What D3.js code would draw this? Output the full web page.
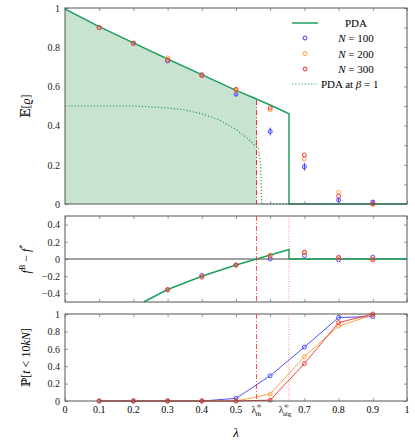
<!DOCTYPE html>
<html><head><meta charset="utf-8">
<script src="https://cdn.jsdelivr.net/npm/d3@7"></script>
<style>body{margin:0;background:#fff}text{font-family:"Liberation Serif","DejaVu Serif",serif}</style>
</head><body>
<svg id="c" width="415" height="443"></svg>
<script>
// data
var lamTh = 0.56, lamAlg = 0.655;
var lams = [0.1, 0.2, 0.3, 0.4, 0.5, 0.6, 0.7, 0.8, 0.9];
var pdaX = [0, 0.005, 0.1, 0.2, 0.3, 0.4, 0.5, 0.6, 0.655, 0.655, 1];
var pdaY = [1, 0.99, 0.905, 0.822, 0.74, 0.66, 0.58, 0.505, 0.46, 0, 0];
var betaX = [0, 0.2, 0.3, 0.35, 0.4, 0.45, 0.5, 0.53, 0.555, 0.565, 0.572, 0.575, 0.6, 1];
var betaY = [0.5, 0.5, 0.49, 0.48, 0.46, 0.43, 0.38, 0.34, 0.3, 0.29, 0.2, 0, 0, 0];
var rho100 = [0.9, 0.82, 0.73, 0.66, 0.56, 0.37, 0.19, 0.02, 0.01];
var rho200 = [0.9, 0.82, 0.745, 0.66, 0.58, 0.48, 0.23, 0.06, 0];
var rho300 = [0.9, 0.82, 0.735, 0.655, 0.585, 0.49, 0.25, 0.04, 0];
var rhoErr100 = [0, 0, 0, 0, 0.01, 0.02, 0.02, 0.01, 0.01];
var gapX = [0.23, 0.3, 0.4, 0.5, 0.56, 0.655, 0.655, 1];
var gapY = [-0.5, -0.355, -0.2, -0.07, 0, 0.11, 0, 0];
var gap100 = [null, null, -0.36, -0.19, -0.07, 0, 0.04, -0.01, 0.02];
var gap200 = [null, null, -0.36, -0.2, -0.07, 0.04, 0.07, 0.01, 0];
var gap300 = [null, null, -0.355, -0.21, -0.07, 0.04, 0.08, 0.02, -0.01];
var p100 = [0, 0, 0, 0, 0.03, 0.29, 0.62, 0.96, 0.97];
var p200 = [0, 0, 0, 0, 0, 0.08, 0.51, 0.86, 0.99];
var p300 = [0, 0, 0, 0, 0, 0.01, 0.43, 0.90, 1.0];
var xTicks = [0, 0.1, 0.2, 0.3, 0.4, 0.5, 0.7, 0.8, 0.9, 1];

var cBlue = "#3a3aff", cOrange = "#ff9a30", cRed = "#ee2a2a", cGreen = "#1e9e5e";
var svg = d3.select("#c");
var x = d3.scaleLinear().domain([0, 1]).range([65, 407]);
var y1 = d3.scaleLinear().domain([0, 1]).range([204, 8]);
var y2 = d3.scaleLinear().domain([-0.5, 0.5]).range([302, 216]);
var y3 = d3.scaleLinear().domain([0, 1]).range([401, 314]);

function frame(y, yt, fmt, label, top, bot) {
    var g = svg.append("g");
    g.append("g").attr("transform", "translate(65,0)")
        .call(d3.axisLeft(y).tickValues(yt).tickSize(-3).tickPadding(5).tickFormat(fmt))
        .call(function (a) { a.select(".domain").remove(); });
    g.append("g").attr("transform", "translate(407,0)")
        .call(d3.axisRight(y).tickValues(yt).tickSize(-3).tickFormat(""))
        .call(function (a) { a.select(".domain").remove(); });
    var xt = d3.range(0, 1.01, 0.1);
    g.append("g").attr("transform", "translate(0," + bot + ")")
        .call(d3.axisBottom(x).tickValues(xt).tickSize(-3).tickFormat(""))
        .call(function (a) { a.select(".domain").remove(); });
    g.append("g").attr("transform", "translate(0," + top + ")")
        .call(d3.axisTop(x).tickValues(xt).tickSize(-3).tickFormat(""))
        .call(function (a) { a.select(".domain").remove(); });
    g.selectAll(".tick line").attr("stroke", "#999");
    g.selectAll(".tick text").attr("font-size", 10).attr("fill", "#222");
    g.append("text").attr("transform", "translate(30," + ((top + bot) / 2) + ") rotate(-90)")
        .attr("text-anchor", "middle").attr("font-size", 12).html(label);
    return g;
}
function box(top, bot) {
    svg.append("rect").attr("x", 65).attr("y", top).attr("width", 342).attr("height", bot - top)
        .attr("fill", "none").attr("stroke", "#555").attr("stroke-width", 1);
}
var lineXY = function (xs, ys, y) {
    return d3.line().x(function (d, i) { return x(xs[i]); }).y(function (d) { return y(d); })(ys);
};
function markers(g, vals, y, col, err) {
    vals.forEach(function (v, i) {
        if (v === null) return;
        if (err && err[i]) g.append("line").attr("x1", x(lams[i])).attr("x2", x(lams[i]))
            .attr("y1", y(v - err[i])).attr("y2", y(v + err[i])).attr("stroke", col);
        g.append("circle").attr("cx", x(lams[i])).attr("cy", y(v)).attr("r", 2)
            .attr("fill", "none").attr("stroke", col).attr("stroke-width", 0.9);
    });
}

// panel 1
frame(y1, d3.range(0, 1.01, 0.1), function (d) { return Math.round(d * 10) % 2 ? "" : d3.format("~g")(d); },
    "𝔼[<tspan font-style='italic'>ϱ</tspan>]", 8, 204);
var fillX = pdaX.filter(function (d) { return d < lamTh; }).concat([lamTh, lamTh]);
var fillY = pdaY.slice(0, fillX.length - 2).concat([1 - 0.83 * lamTh + 0.01, 0]);
svg.append("path").attr("d", lineXY(fillX, fillY, y1) + "L" + x(0) + "," + y1(0) + "Z")
    .attr("fill", "#c9e3d1");
svg.append("line").attr("x1", x(lamTh)).attr("x2", x(lamTh)).attr("y1", y1(0.53)).attr("y2", y1(0))
    .attr("stroke", cRed).attr("stroke-dasharray", "5,2,1,2");
svg.append("path").attr("d", lineXY(betaX, betaY, y1)).attr("fill", "none")
    .attr("stroke", cGreen).attr("stroke-dasharray", "1.2,2").attr("stroke-width", 1.2);
svg.append("path").attr("d", lineXY(pdaX, pdaY, y1)).attr("fill", "none").attr("stroke", cGreen).attr("stroke-width", 1.5);
var m1 = svg.append("g");
markers(m1, rho100, y1, cBlue, rhoErr100);
markers(m1, rho200, y1, cOrange);
markers(m1, rho300, y1, cRed);
box(8, 204);

// legend
var leg = svg.append("g").attr("font-size", 11);
leg.append("line").attr("x1", 292).attr("x2", 318).attr("y1", 23).attr("y2", 23).attr("stroke", cGreen).attr("stroke-width", 1.5);
leg.append("text").attr("x", 356).attr("y", 27).attr("text-anchor", "middle").text("PDA");
[["100", cBlue], ["200", cOrange], ["300", cRed]].forEach(function (d, i) {
    var yy = 38 + i * 15.5;
    leg.append("circle").attr("cx", 305).attr("cy", yy).attr("r", 2).attr("fill", "none").attr("stroke", d[1]);
    leg.append("text").attr("x", 356).attr("y", yy + 4).attr("text-anchor", "middle")
        .html("<tspan font-style='italic'>N</tspan> = " + d[0]);
});
leg.append("line").attr("x1", 292).attr("x2", 318).attr("y1", 84).attr("y2", 84).attr("stroke", cGreen).attr("stroke-dasharray", "1.2,2").attr("stroke-width", 1.2);
leg.append("text").attr("x", 321).attr("y", 88).html("PDA at <tspan font-style='italic'>β</tspan> = 1");

// panel 2
frame(y2, [-0.4, -0.2, 0, 0.2, 0.4], function (d) { return d === 0 ? "0" : d3.format(".1f")(d).replace("-", "−"); },
    "<tspan font-style='italic'>f</tspan><tspan font-size='8' dy='-5'>B</tspan><tspan dy='5'> − </tspan><tspan font-style='italic'>f</tspan><tspan font-size='8' dy='-5'>*</tspan>", 216, 302);
svg.append("line").attr("x1", x(0)).attr("x2", x(1)).attr("y1", y2(0)).attr("y2", y2(0)).attr("stroke", "#444");
svg.append("path").attr("d", lineXY(gapX, gapY, y2)).attr("fill", "none").attr("stroke", cGreen).attr("stroke-width", 1.5);
var m2 = svg.append("g");
markers(m2, gap100, y2, cBlue);
markers(m2, gap200, y2, cOrange);
markers(m2, gap300, y2, cRed);
box(216, 302);

// panel 3
frame(y3, d3.range(0, 1.01, 0.2), function (d) { return d3.format("~g")(d); },
    "ℙ[<tspan font-style='italic'>t</tspan> &lt; 10<tspan font-style='italic'>kN</tspan>]", 314, 401);
[[p100, cBlue], [p200, cOrange], [p300, cRed]].forEach(function (s) {
    svg.append("path").attr("d", lineXY(lams, s[0], y3)).attr("fill", "none").attr("stroke", s[1]).attr("stroke-width", 0.9);
    markers(svg.append("g"), s[0], y3, s[1]);
});
box(314, 401);

// vertical markers in lower panels
[[216, 302], [314, 401]].forEach(function (p) {
    svg.append("line").attr("x1", x(lamTh)).attr("x2", x(lamTh)).attr("y1", p[0]).attr("y2", p[1])
        .attr("stroke", cRed).attr("stroke-dasharray", "5,2,1,2").attr("stroke-width", 0.8);
    svg.append("line").attr("x1", x(lamAlg)).attr("x2", x(lamAlg)).attr("y1", p[0]).attr("y2", p[1])
        .attr("stroke", "#f07070").attr("stroke-dasharray", "1,1.5").attr("stroke-width", 0.8);
});

// x tick labels
var xl = svg.append("g").attr("font-size", 10).attr("text-anchor", "middle");
xTicks.forEach(function (t) {
    xl.append("text").attr("x", x(t)).attr("y", 413).text(d3.format("~g")(t));
});
xl.append("text").attr("x", x(lamTh)).attr("y", 413).html("λ<tspan font-size='7' dy='-5'>∞</tspan><tspan font-size='7' dx='-6' dy='8'>th</tspan>");
xl.append("text").attr("x", x(lamAlg) - 4).attr("y", 413).html("λ<tspan font-size='7' dy='-5'>∞</tspan><tspan font-size='7' dx='-6' dy='8'>alg</tspan>");
svg.append("text").attr("x", x(0.5)).attr("y", 437).attr("text-anchor", "middle").attr("font-size", 13)
    .attr("font-style", "italic").text("λ");
</script>
</body></html>
